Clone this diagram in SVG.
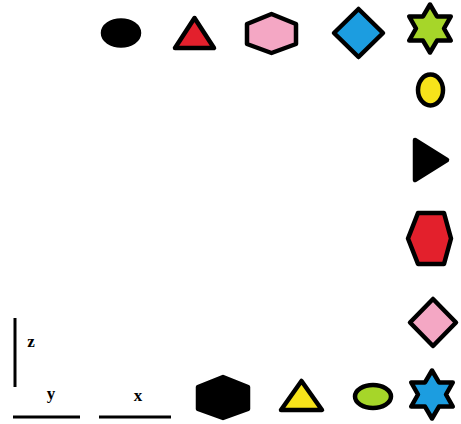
<svg xmlns="http://www.w3.org/2000/svg" xmlns:xlink="http://www.w3.org/1999/xlink" width="461" height="424" viewBox="0 0 461 424">
  <style>
    .sh { stroke: #000; stroke-width: 4.5; stroke-linejoin: round; }
    .blk { fill: #000; }
    .red { fill: #e3202c; }
    .pink { fill: #f4a7c4; }
    .blue { fill: #1c9de0; }
    .lime { fill: #a6d629; }
    .yel { fill: #f7e31a; }
    .axis { stroke: #000; stroke-width: 3; fill: none; }
    .lbl { font-family: "Liberation Serif", "Times New Roman", serif; font-size: 17px; font-weight: bold; fill: #000; text-anchor: middle; }
  </style>
  <defs>
    <path id="star" d="M0,-24 L7,-12.12 L20.78,-12 L14,0 L20.78,12 L7,12.12 L0,24 L-7,12.12 L-20.78,12 L-14,0 L-20.78,-12 L-7,-12.12 Z"/>
  </defs>
  <rect width="461" height="424" fill="#fff"/>

  <g id="top-ellipse-black"><ellipse class="sh blk" cx="121" cy="33" rx="18" ry="12.5"/></g>
  <g id="top-triangle-red"><polygon class="sh red" points="194.5,18 214,48 175,48"/></g>
  <g id="top-hexagon-pink"><polygon class="sh pink" points="271.5,14 296,24 296,44 271.5,53 247,44 247,24"/></g>
  <g id="top-diamond-blue"><polygon class="sh blue" points="358.5,9 383,33 358.5,57 334,33"/></g>
  <g id="top-star-lime"><use xlink:href="#star" class="sh lime" transform="translate(430,28.5)"/></g>

  <g id="right-ellipse-yellow"><ellipse class="sh yel" cx="430.5" cy="90" rx="12.5" ry="15.5"/></g>
  <g id="right-triangle-black"><polygon class="sh blk" points="415,140 447,160 415,180"/></g>
  <g id="right-hexagon-red"><polygon class="sh red" points="418,213 444,213 451,238.5 444,264 418,264 408,238.5"/></g>
  <g id="right-diamond-pink"><polygon class="sh pink" points="433,299 456,322.5 433,346 410,322.5"/></g>

  <g id="bottom-hexagon-black"><polygon class="sh blk" points="223,377 248,387 248,409 223,418 198,409 198,387"/></g>
  <g id="bottom-triangle-yellow"><polygon class="sh yel" points="301.5,381 322,410 281,410"/></g>
  <g id="bottom-ellipse-lime"><ellipse class="sh lime" cx="373" cy="396.5" rx="18" ry="11.5"/></g>
  <g id="bottom-star-blue"><use xlink:href="#star" class="sh blue" transform="translate(432,394.5)"/></g>

  <g id="axes">
    <line class="axis" x1="15" y1="318" x2="15" y2="387"/>
    <text class="lbl" x="31" y="347">z</text>
    <line class="axis" x1="13" y1="417" x2="80" y2="417"/>
    <text class="lbl" x="51" y="399">y</text>
    <line class="axis" x1="99" y1="417" x2="171" y2="417"/>
    <text class="lbl" x="138" y="401">x</text>
  </g>
</svg>
